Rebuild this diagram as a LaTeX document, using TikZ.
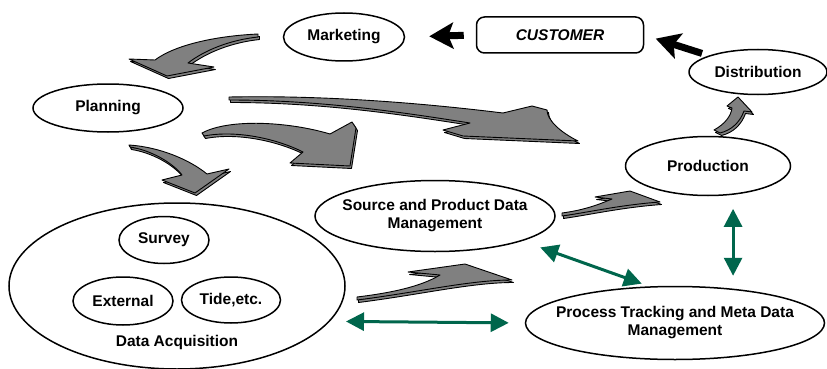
\documentclass[tikz,border=0pt]{standalone}
\usepackage{fontspec}
\setmainfont{Liberation Sans}
\usetikzlibrary{arrows.meta,shapes.geometric,calc}
\definecolor{arrowgray}{RGB}{128,128,128}
\definecolor{linkgreen}{RGB}{0,102,76}
\newcommand{\boxfont}{\bfseries\fontsize{15.5}{18}\selectfont}
\newcommand{\lbl}[1]{\makebox[0pt]{\begin{tabular}{@{}c@{}}#1\end{tabular}}}
\tikzset{
  oval/.style={ellipse, draw, line width=1.5pt, inner sep=0pt, font=\boxfont},
  custbox/.style={rectangle, rounded corners=8pt, draw, line width=1.5pt, minimum width=167pt, minimum height=36pt, font=\boxfont\itshape},
  bendarrow/.style={fill=arrowgray, draw=black, line width=0.9pt, line join=round},
  flowarrow/.style={line width=7pt, -{Stealth[length=24pt,width=26pt,inset=5pt]}},
  linkarrow/.style={linkgreen, line width=3pt, {Triangle[length=18pt,width=18pt]}-{Triangle[length=18pt,width=18pt]}},
}
\newcommand{\bentarrow}[1]{%
  \draw[bendarrow,shift={(1.5,2.5)}] #1;
  \draw[bendarrow] #1;}
\begin{document}
\begin{tikzpicture}[x=1pt,y=-1pt]
      \useasboundingbox (0,0) rectangle (827,369);
      \node[oval, minimum width=121pt, minimum height=48pt] (mkt) at (344,37) {Marketing};
      \node[custbox] (cust) at (560,35) {CUSTOMER};
      \node[oval, minimum width=138pt, minimum height=45pt] (dist) at (758,72) {Distribution};
      \node[oval, minimum width=150pt, minimum height=48pt] (plan) at (108,108) {Planning};
      \node[oval, minimum width=165pt, minimum height=59pt] (prod) at (708,166) {Production};
      \node[oval, minimum width=240pt, minimum height=71pt] (spdm) at (435,216) {\lbl{Source and Product Data\\Management}};
      \node[oval, minimum width=336pt, minimum height=166pt] (da) at (177,286) {};
      \node[oval, minimum width=90pt, minimum height=47pt] (survey) at (164,240) {Survey};
      \node[oval, minimum width=100pt, minimum height=48pt] (ext) at (123,301) {External};
      \node[oval, minimum width=99pt, minimum height=46pt] (tide) at (231,300) {Tide,etc.};
      \node[font=\boxfont] (dalabel) at (177,342) {Data Acquisition};
      \node[oval, minimum width=299pt, minimum height=73pt] (ptm) at (675,323) {\lbl{Process Tracking and Meta Data\\Management}};
      \draw[flowarrow, shorten <=12pt, shorten >=24pt] (cust.west) -- (mkt.east);
      \draw[flowarrow, shorten <=7pt, shorten >=12pt] (dist.north west) -- (cust.east);
      \draw[linkarrow, shorten <=16pt, shorten >=16pt] (da.-13) -- (ptm.west);
      \draw[linkarrow, shorten <=19pt, shorten >=8pt] (spdm.-16) -- (ptm.125);
      \draw[linkarrow, shorten <=14pt, shorten >=10pt] (prod.-49) -- (prod.-49 |- ptm.north);
      \bentarrow{(258,34) .. controls (215,36) and (175,45) .. (155,60) -- (129,59) -- (167,76) -- (214,67) -- (188,63) .. controls (205,50) and (230,40) .. (258,37) -- cycle}
      \bentarrow{(229,97) .. controls (330,95) and (430,104) .. (503,113) -- (532,106) -- (547,110) .. controls (547,120) and (560,132) .. (578,141) -- (463,136) -- (443,130) -- (470,123) .. controls (400,112) and (320,100) .. (229,100) -- cycle}
      \bentarrow{(202,133) .. controls (230,118) and (290,122) .. (330,134) -- (352,122) -- (356,128) -- (350,166) -- (290,163) -- (303,152) .. controls (275,138) and (235,130) .. (204,136) -- cycle}
      \bentarrow{(129,145) .. controls (160,147) and (190,160) .. (207,174) -- (229,169) -- (195,193) -- (162,180) -- (182,175) .. controls (172,162) and (150,150) .. (130,147) -- cycle}
      \bentarrow{(562,213) .. controls (585,210) and (600,204) .. (612,199) -- (595,197) -- (630,191) -- (660,202) .. controls (620,205) and (590,212) .. (562,216) -- cycle}
      \bentarrow{(357,297) .. controls (390,293) and (420,287) .. (440,275) -- (408,272) -- (465,264) -- (512,280) .. controls (470,280) and (420,292) .. (357,300) -- cycle}
      \bentarrow{(714,130) .. controls (725,124) and (731,116) .. (732,108) -- (727,106) -- (738,97) -- (752,112) -- (744,111) .. controls (740,122) and (732,130) .. (720,133) -- cycle}
    \end{tikzpicture}
\end{document}
